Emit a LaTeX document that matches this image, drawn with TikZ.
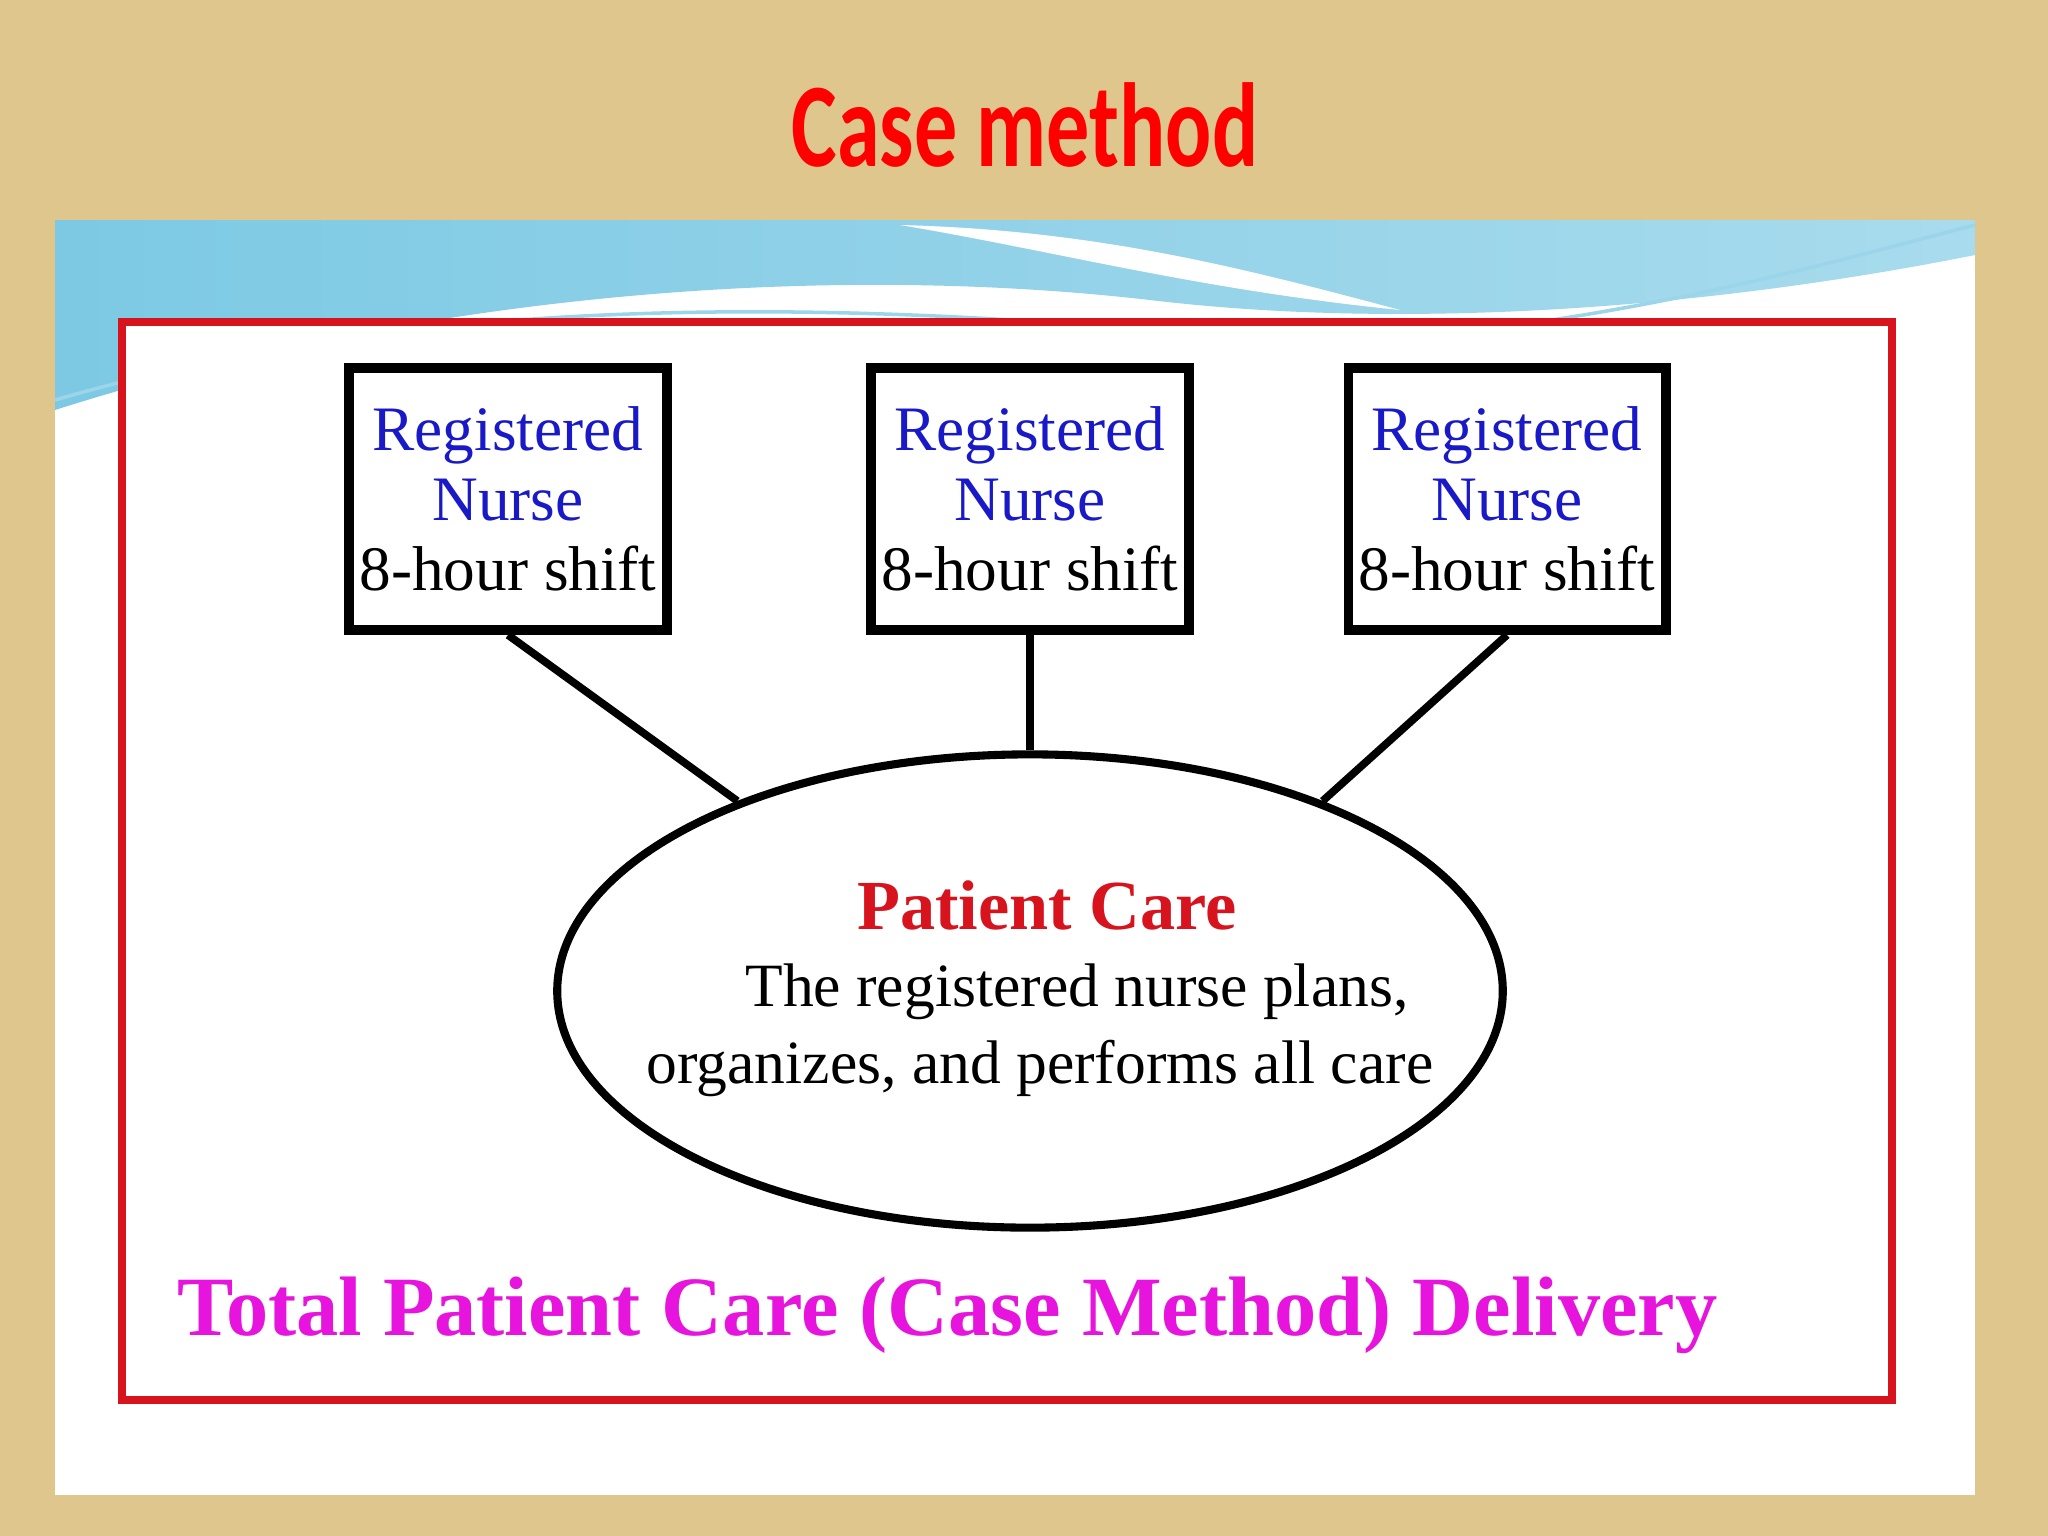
\documentclass[tikz,border=0pt]{standalone}
\usepackage{fontspec}
\setmainfont{Liberation Serif}
\newfontfamily\titlefont{Carlito}
\usetikzlibrary{shapes.geometric}
\definecolor{tan}{RGB}{222,198,140}
\definecolor{sky}{RGB}{110,195,225}
\definecolor{nblue}{RGB}{25,25,200}
\definecolor{pcred}{RGB}{215,20,30}
\definecolor{mag}{RGB}{230,20,220}
\begin{document}
\begin{tikzpicture}[x=0.01cm,y=-0.01cm,
  box/.style={draw=black,line width=2.8pt,minimum width=3.17cm,minimum height=2.62cm,inner sep=0,align=center,font=\fontsize{18}{20}\selectfont},
  conn/.style={line width=2.2pt}]
\useasboundingbox (0,0) rectangle (2048,1536);
\fill[tan] (0,0) rectangle (2048,1536);
\fill[white] (55,220) rectangle (1975,1495);
\shade[left color=sky!90, right color=sky!60] (55,220) -- (1975,220) -- (1975,255) .. controls (1700,310) and (1400,330) .. (1150,300) .. controls (800,260) and (400,300) .. (55,410) -- cycle;
\fill[white] (900,225) .. controls (1100,230) and (1250,270) .. (1400,310) .. controls (1200,290) and (1050,250) .. (900,225) -- cycle;
\draw[sky!70,line width=1pt] (55,400) .. controls (400,300) and (800,290) .. (1300,345) .. controls (1600,330) and (1800,270) .. (1975,225);
\fill[white] (126,326) rectangle (1888,1396);
\draw[pcred,line width=2.3pt] (122,322) rectangle (1892,1400);
\node[font=\titlefont\bfseries\fontsize{34}{40}\selectfont,text=red] (title) at (1025,125) {\scalebox{0.72}[1]{Case method}};
\node[box] (b1) at (508,499) {\textcolor{nblue}{Registered}\\\textcolor{nblue}{Nurse}\\8-hour shift};
\node[box] (b2) at (1030,499) {\textcolor{nblue}{Registered}\\\textcolor{nblue}{Nurse}\\8-hour shift};
\node[box] (b3) at (1507,499) {\textcolor{nblue}{Registered}\\\textcolor{nblue}{Nurse}\\8-hour shift};
\node[ellipse,draw,line width=2.3pt,minimum width=9.45cm,minimum height=4.73cm,inner sep=0] (e) at (1030,991) {};
\node[font=\bfseries\fontsize{20}{24}\selectfont,text=pcred] (pc) at (1047,905) {Patient Care};
\node[align=center,font=\fontsize{17.5}{22}\selectfont] (pt) at (1040,1030) {\hspace*{1.2em}The registered nurse plans,\\organizes, and performs all care};
\draw[conn] (b1.south) -- (e.147);
\draw[conn] (b2.south) -- (e.north);
\draw[conn] (b3.south) -- (e.33);
\node[anchor=west,font=\bfseries\fontsize{24}{28}\selectfont,text=mag] (tot) at (165,1315) {Total Patient Care (Case Method) Delivery};
\end{tikzpicture}
\end{document}
